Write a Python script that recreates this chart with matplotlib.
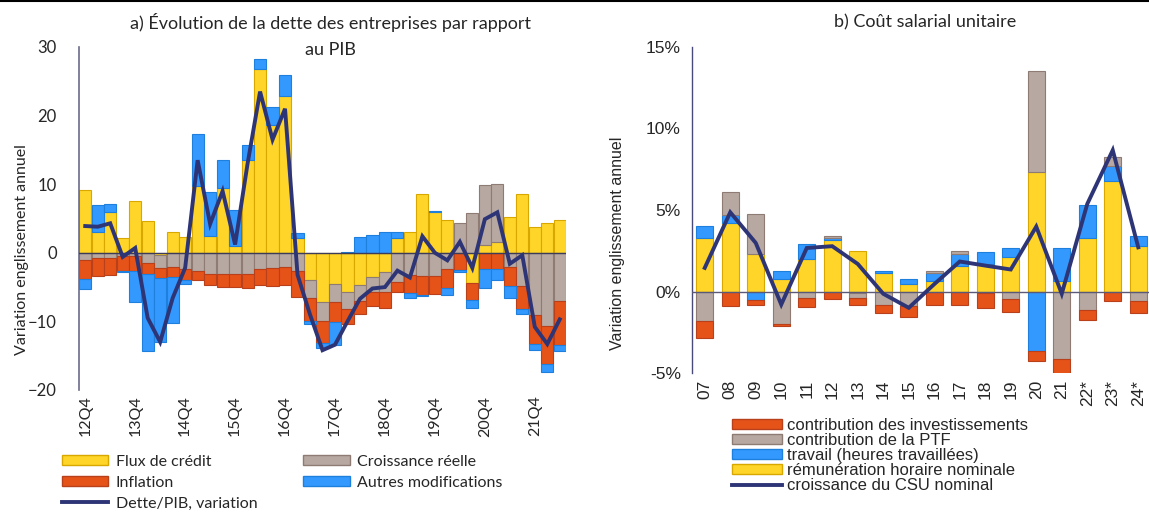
import numpy as np
import matplotlib
matplotlib.use('Agg')
import matplotlib.pyplot as plt
from matplotlib.patches import Patch
from matplotlib.lines import Line2D
from matplotlib.ticker import FuncFormatter

# ---- panel a) data : quarters 12Q4 .. 22Q2
quarters = ['12Q4', '13Q1', '13Q2', '13Q3', '13Q4', '14Q1', '14Q2', '14Q3', '14Q4',
            '15Q1', '15Q2', '15Q3', '15Q4', '16Q1', '16Q2', '16Q3', '16Q4',
            '17Q1', '17Q2', '17Q3', '17Q4', '18Q1', '18Q2', '18Q3', '18Q4',
            '19Q1', '19Q2', '19Q3', '19Q4', '20Q1', '20Q2', '20Q3', '20Q4',
            '21Q1', '21Q2', '21Q3', '21Q4', '22Q1', '22Q2']
flux_credit = [9.1, 3.0, 5.9, 2.2, 7.6, 4.6, -0.25, 3.1, 2.3, 9.7, 2.5, 9.4, 1.0, 13.6,
               26.8, 18.7, 22.9, 2.1, -3.9, -7.2, -4.5, -5.7, -4.7, -3.5, -2.8, 2.2,
               3.1, 8.6, 5.9, 4.8, 0.0, -4.4, 1.2, 1.6, 5.2, 8.6, 3.7, 4.4, 4.8]
croissance = [-1.1, -0.7, -0.7, -0.5, -0.5, -1.5, -1.9, -2.1, -2.3, -2.6, -3.05, -3.05,
              -3.05, -3.1, -2.4, -2.2, -2.0, -2.6, -2.7, -2.7, -2.6, -2.5, -2.3, -2.2,
              -2.9, -4.2, -3.2, -3.4, -3.35, -2.4, 4.4, 5.8, 8.7, 8.4, -2.0, -4.8,
              -9.0, -10.7, -7.0]
inflation = [-2.7, -2.7, -2.5, -2.1, -2.1, -1.6, -1.5, -1.5, -1.6, -1.3, -1.6, -1.9,
             -2.0, -2.0, -2.3, -2.6, -2.7, -3.8, -3.4, -3.2, -3.0, -2.2, -1.9, -2.0,
             -2.4, -1.5, -2.7, -2.7, -2.7, -2.7, -2.5, -2.5, -2.3, -2.3, -2.9, -3.4,
             -4.3, -5.5, -6.5]
autres = [-1.5, 4.0, 1.2, -0.2, -4.5, -11.2, -9.4, -6.6, -0.7, 7.6, 6.3, 4.2, 5.2, 2.1,
          1.5, 2.6, 3.0, 0.85, -0.35, -0.8, -3.4, 0.15, 2.35, 2.6, 3.1, 0.85, -0.7,
          -0.25, 0.25, -1.0, -0.35, -1.2, -2.9, -1.7, -1.7, -0.75, -0.8, -1.2, -0.8]
dette_pib = [3.9, 3.8, 4.3, -0.6, 0.7, -9.5, -13.0, -6.6, -2.2, 13.5, 4.2, 9.0, 1.2,
             13.0, 23.5, 16.5, 21.0, -3.2, -9.0, -14.2, -13.4, -10.0, -6.7, -5.2,
             -5.0, -2.6, -3.6, 2.4, 0.0, -1.1, 1.6, -2.2, 4.9, 5.9, -1.6, -0.35,
             -10.8, -13.3, -9.7]

# ---- panel b) data : years
years = ['07', '08', '09', '10', '11', '12', '13', '14', '15', '16', '17', '18', '19',
         '20', '21', '22*', '23*', '24*']
remuneration = [3.27, 4.2, 2.27, 0.75, 2.0, 3.18, 2.51, 1.12, 0.43, 0.63, 1.57, 1.69,
                2.1, 7.35, 0.63, 3.29, 6.8, 2.8]
travail = [0.75, 0.5, -0.5, 0.53, 0.9, 0.1, -0.1, 0.16, 0.33, 0.49, 0.73, 0.71, 0.59,
           -3.67, 2.06, 2.04, 0.88, 0.59]
ptf = [-1.78, 1.43, 2.47, -2.0, -0.39, 0.1, -0.29, -0.82, -0.92, 0.16, 0.16, -0.1,
       -0.45, 6.18, -4.12, -1.16, 0.59, -0.59]
investissements = [-1.06, -0.88, -0.3, -0.12, -0.57, -0.47, -0.41, -0.51, -0.65, -0.8,
                   -0.8, -0.9, -0.82, -0.59, -0.92, -0.57, -0.61, -0.73]
csu_nominal = [1.45, 4.86, 2.98, -0.8, 2.67, 2.78, 1.69, -0.14, -1.0, 0.45, 1.84, 1.59,
               1.35, 3.98, -0.14, 5.37, 8.67, 2.71]

YELLOW, YELLOW_E = '#FFD52A', '#D9A800'
GRAY, GRAY_E = '#B7A9A2', '#8E7C74'
ORANGE, ORANGE_E = '#E65318', '#B8401A'
BLUE, BLUE_E = '#3399FF', '#1E80DC'
NAVY = '#2E3576'
AXCOL = '#6B6B8A'
TXT = '#262626'


def stacked(ax, x, series, width):
    pos = np.zeros(len(x))
    neg = np.zeros(len(x))
    for vals, fc, ec in series:
        v = np.array(vals, dtype=float)
        bottom = np.where(v >= 0, pos, neg)
        ax.bar(x, v, bottom=bottom, width=width, color=fc, edgecolor=ec,
               linewidth=0.8, zorder=2)
        pos += np.clip(v, 0, None)
        neg += np.clip(v, None, 0)


fig = plt.figure(figsize=(11.49, 5.13), dpi=100)
W, H = 1149, 513

# ------------------------------------------------------------ panel a
ax1 = fig.add_axes([79 / W, 1 - 390 / H, (566 - 79) / W, (390 - 47) / H])
xa = np.arange(len(quarters))
stacked(ax1, xa, [(flux_credit, YELLOW, YELLOW_E), (croissance, GRAY, GRAY_E),
                  (inflation, ORANGE, ORANGE_E), (autres, BLUE, BLUE_E)], 0.97)
ax1.plot(xa, dette_pib, color=NAVY, lw=2.8, zorder=4, solid_joinstyle='miter')
ax1.axhline(0, color='#3C3C5A', lw=1.0, zorder=3)
ax1.set_xlim(-0.5, len(quarters) - 0.5)
ax1.set_ylim(-20, 30)
ax1.set_yticks([-20, -10, 0, 10, 20, 30])
ax1.set_xticks(xa[::4])
ax1.set_xticklabels(quarters[::4], rotation=90, fontsize=11.5, family='Lato', color=TXT)
for lab in ax1.get_yticklabels():
    lab.set_family('Lato')
ax1.tick_params(axis='y', length=0, labelsize=12, labelcolor=TXT, pad=16)
ax1.tick_params(axis='x', length=0, pad=4)
for s in ['top', 'right', 'bottom']:
    ax1.spines[s].set_visible(False)
ax1.spines['left'].set_color(AXCOL)
ax1.spines['left'].set_linewidth(1.2)
ax1.set_facecolor('none')

fig.text(330 / W, 1 - 22 / H, 'a) Évolution de la dette des entreprises par rapport',
         ha='center', va='center', fontsize=13, family='Lato', color=TXT)
fig.text(330 / W, 1 - 50 / H, 'au PIB', ha='center', va='center', fontsize=13,
         family='Lato', color=TXT)
fig.text(22 / W, 1 - 250 / H, 'Variation englissement annuel', rotation=90,
         ha='center', va='center', fontsize=11.5, family='Lato', color=TXT)

h_a = [Patch(facecolor=YELLOW, edgecolor=YELLOW_E, label='Flux de crédit'),
       Patch(facecolor=ORANGE, edgecolor=ORANGE_E, label='Inflation'),
       Line2D([], [], color=NAVY, lw=2.8, label='Dette/PIB, variation'),
       Patch(facecolor=GRAY, edgecolor=GRAY_E, label='Croissance réelle'),
       Patch(facecolor=BLUE, edgecolor=BLUE_E, label='Autres modifications')]
fig.legend(handles=h_a, loc='upper left', bbox_to_anchor=(62 / W, 1 - 455 / H),
           ncol=2, frameon=False, prop={'family': 'Lato', 'size': 11.5},
           handlelength=2.9, handleheight=0.6, handletextpad=0.45,
           columnspacing=2.9, labelspacing=0.42, borderpad=0, borderaxespad=0,
           labelcolor=TXT)

# ------------------------------------------------------------ panel b
ax2 = fig.add_axes([692 / W, 1 - 373 / H, (1151 - 692) / W, (373 - 47) / H])
xb = np.arange(len(years))
stacked(ax2, xb, [(remuneration, YELLOW, YELLOW_E), (travail, BLUE, BLUE_E),
                  (ptf, GRAY, GRAY_E), (investissements, ORANGE, ORANGE_E)], 0.65)
ax2.plot(xb, csu_nominal, color=NAVY, lw=2.8, zorder=4, solid_joinstyle='miter')
ax2.axhline(0, color='#5A5A78', lw=1.0, zorder=3)
ax2.set_xlim(-0.5, len(years) - 0.5)
ax2.set_ylim(-5, 15)
ax2.set_yticks([-5, 0, 5, 10, 15])
ax2.yaxis.set_major_formatter(FuncFormatter(lambda v, p: f'{v:.0f}%'))
ax2.set_xticks(xb)
ax2.set_xticklabels(years, rotation=90, fontsize=12.5, family='Liberation Sans', color=TXT)
for lab in ax2.get_yticklabels():
    lab.set_family('Liberation Sans')
ax2.tick_params(axis='y', length=0, labelsize=12.5, labelcolor=TXT, pad=8)
ax2.tick_params(axis='x', length=0, pad=5)
for s in ['top', 'right', 'bottom']:
    ax2.spines[s].set_visible(False)
ax2.spines['left'].set_color('#4A4A78')
ax2.spines['left'].set_linewidth(1.0)
ax2.set_facecolor('none')

fig.text(925 / W, 1 - 22 / H, 'b) Coût salarial unitaire', ha='center', va='center',
         fontsize=13, family='Lato', color=TXT)
fig.text(617 / W, 1 - 243 / H, 'Variation englissement annuel', rotation=90,
         ha='center', va='center', fontsize=11.5, family='Liberation Sans', color=TXT)

h_b = [Patch(facecolor=ORANGE, edgecolor=ORANGE_E, label='contribution des investissements'),
       Patch(facecolor=GRAY, edgecolor=GRAY_E, label='contribution de la PTF'),
       Patch(facecolor=BLUE, edgecolor=BLUE_E, label='travail (heures travaillées)'),
       Patch(facecolor=YELLOW, edgecolor=YELLOW_E, label='rémunération horaire nominale'),
       Line2D([], [], color=NAVY, lw=2.8, label='croissance du CSU nominal')]
fig.legend(handles=h_b, loc='upper left', bbox_to_anchor=(732 / W, 1 - 418 / H),
           ncol=1, frameon=False, prop={'family': 'Liberation Sans', 'size': 12},
           handlelength=3.0, handleheight=0.5, handletextpad=0.3,
           labelspacing=0.0, borderpad=0, borderaxespad=0, labelcolor=TXT)

fig.add_artist(Line2D([0, 1], [0.998, 0.998], color='black', lw=1.5,
                      transform=fig.transFigure))

fig.savefig('out.png', dpi=100)
